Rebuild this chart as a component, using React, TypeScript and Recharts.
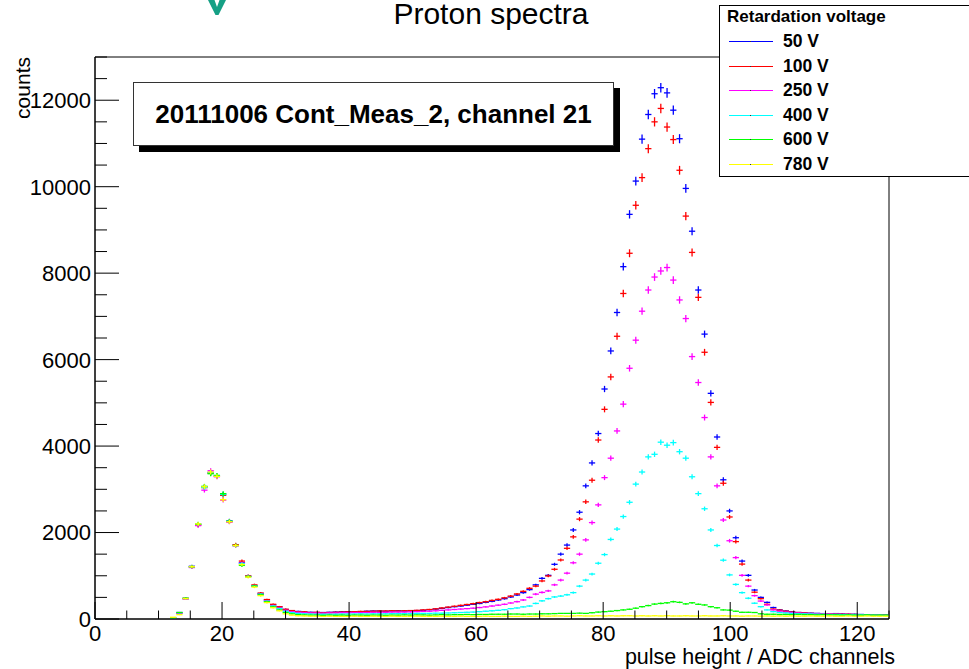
import React from "react";
import { ScatterChart, Scatter, XAxis, YAxis, ErrorBar, ReferenceArea, Legend } from "recharts";

const FONT = '"Liberation Sans", Arial, Helvetica, sans-serif';

const SERIES_NAMES = ["50 V", "100 V", "250 V", "400 V", "600 V", "780 V"];
const SERIES_COLORS = ["#0000ff", "#ff0000", "#ff00ff", "#00ffff", "#00ff00", "#ffff00"];

const X_TICKS = [0, 5, 10, 15, 20, 25, 30, 35, 40, 45, 50, 55, 60, 65, 70, 75, 80, 85, 90, 95, 100, 105, 110, 115, 120, 125];
const X_LABELS = [0, 20, 40, 60, 80, 100, 120];
const Y_TICKS = [0, 500, 1000, 1500, 2000, 2500, 3000, 3500, 4000, 4500, 5000, 5500, 6000, 6500, 7000, 7500, 8000, 8500, 9000, 9500, 10000, 10500, 11000, 11500, 12000, 12500, 13000];
const Y_LABELS = [0, 2000, 4000, 6000, 8000, 10000, 12000];

// 127 bins spread over 0..125 on the axis
const BIN_WIDTH = 125 / 127;

// counts per bin (index = bin number)
const counts50 = [
  0, 0, 0, 0, 0, 0, 0, 0, 0, 0,
  0, 0, 20, 150, 470, 1220, 2190, 3060, 3390, 3310,
  2890, 2270, 1710, 1300, 990, 770, 590, 440, 330, 280,
  220, 190, 175, 160, 155, 150, 150, 155, 160, 165,
  170, 165, 170, 180, 185, 185, 180, 185, 190, 185,
  190, 195, 200, 215, 230, 245, 265, 285, 300, 320,
  340, 360, 385, 410, 440, 470, 510, 555, 610, 680,
  790, 940, 1010, 1265, 1500, 1710, 2060, 2470, 3080, 3610,
  4290, 5320, 6200, 7090, 8150, 9360, 10130, 11100, 11670, 12150,
  12290, 12170, 11770, 11110, 9960, 8970, 7610, 6590, 5220, 4210,
  3220, 2500, 1880, 1340, 1010, 670, 500, 385, 265, 210,
  185, 165, 150, 140, 135, 130, 125, 120, 125, 115,
  110, 110, 105, 100, 100, 95, 95,
];
const counts100 = [
  0, 0, 0, 0, 0, 0, 0, 0, 0, 0,
  0, 0, 15, 140, 480, 1200, 2170, 3040, 3370, 3300,
  2860, 2250, 1720, 1340, 1000, 790, 600, 450, 340, 285,
  225, 195, 170, 165, 150, 155, 145, 150, 155, 160,
  165, 170, 175, 175, 180, 185, 185, 190, 185, 190,
  195, 200, 210, 220, 235, 255, 275, 295, 315, 335,
  355, 380, 400, 430, 455, 490, 530, 580, 640, 710,
  760, 880, 995, 1150, 1365, 1635, 1900, 2310, 2710, 3210,
  4140, 4850, 5600, 6540, 7530, 8460, 9570, 10210, 10880, 11500,
  11810, 11380, 11090, 10380, 9320, 8480, 7440, 6170, 5010, 3970,
  3140, 2360, 1790, 1270, 900, 620, 470, 340, 230, 205,
  180, 160, 150, 140, 130, 125, 120, 120, 115, 110,
  110, 105, 100, 100, 95, 95, 90,
];
const counts250 = [
  0, 0, 0, 0, 0, 0, 0, 0, 0, 0,
  0, 0, 10, 130, 460, 1190, 2160, 2980, 3430, 3290,
  2750, 2240, 1690, 1290, 980, 760, 570, 420, 310, 250,
  200, 170, 155, 145, 140, 140, 135, 140, 140, 145,
  145, 150, 150, 150, 155, 150, 155, 160, 160, 160,
  165, 170, 175, 180, 190, 200, 210, 220, 230, 240,
  250, 265, 280, 300, 320, 340, 370, 400, 440, 500,
  575, 615, 650, 790, 900, 1060, 1300, 1500, 1830, 2230,
  2640, 3270, 3720, 4350, 4970, 5800, 6450, 7120, 7610, 7910,
  8050, 8130, 7840, 7380, 6950, 6070, 5470, 4660, 3750, 3080,
  2290, 1810, 1420, 1010, 760, 540, 415, 325, 210, 180,
  160, 150, 140, 130, 125, 120, 115, 115, 110, 105,
  105, 100, 100, 95, 95, 90, 90,
];
const counts400 = [
  0, 0, 0, 0, 0, 0, 0, 0, 0, 0,
  0, 0, 15, 145, 475, 1210, 2200, 3040, 3380, 3320,
  2880, 2260, 1700, 1280, 985, 765, 575, 410, 300, 240,
  180, 150, 130, 120, 115, 110, 110, 110, 110, 115,
  115, 115, 120, 115, 120, 120, 120, 125, 125, 125,
  125, 130, 130, 130, 135, 135, 140, 145, 150, 155,
  160, 170, 180, 190, 200, 215, 240, 255, 280, 300,
  360, 420, 470, 510, 530, 560, 610, 760, 900, 1040,
  1290, 1490, 1840, 2080, 2370, 2700, 3120, 3400, 3750, 3810,
  4090, 4020, 4080, 3870, 3720, 3290, 2900, 2550, 2060, 1700,
  1360, 1020, 800, 610, 480, 365, 285, 210, 170, 150,
  140, 130, 125, 120, 115, 110, 110, 105, 105, 100,
  100, 95, 95, 90, 90, 90, 85,
];
const counts600 = [
  0, 0, 0, 0, 0, 0, 0, 0, 0, 0,
  0, 0, 25, 150, 480, 1210, 2190, 3070, 3360, 3320,
  2900, 2260, 1700, 1240, 980, 760, 560, 400, 280, 210,
  150, 120, 100, 95, 90, 90, 85, 90, 85, 90,
  85, 90, 90, 85, 90, 90, 85, 90, 90, 95,
  90, 95, 95, 90, 95, 100, 95, 100, 100, 105,
  100, 105, 105, 110, 110, 110, 115, 115, 110, 115,
  115, 120, 120, 125, 130, 130, 130, 135, 130, 145,
  160, 170, 180, 195, 210, 225, 250, 285, 310, 345,
  360, 375, 400, 385, 350, 375, 340, 325, 285, 260,
  210, 205, 180, 155, 155, 150, 120, 110, 110, 105,
  105, 100, 105, 100, 100, 95, 100, 95, 95, 90,
  95, 90, 90, 95, 90, 90, 90,
];
const counts780 = [
  0, 0, 0, 0, 0, 0, 0, 0, 0, 0,
  0, 0, 40, 100, 470, 1210, 2200, 3060, 3400, 3300,
  2760, 2250, 1700, 1260, 970, 740, 540, 380, 260, 190,
  120, 90, 75, 70, 65, 65, 60, 65, 60, 60,
  60, 65, 60, 60, 65, 60, 60, 65, 60, 60,
  60, 65, 60, 60, 60, 65, 60, 60, 65, 60,
  60, 60, 65, 60, 60, 65, 60, 60, 65, 60,
  65, 70, 65, 70, 70, 65, 70, 75, 70, 70,
  75, 70, 75, 70, 75, 75, 70, 75, 70, 75,
  70, 75, 70, 70, 75, 70, 70, 75, 70, 70,
  75, 70, 70, 65, 70, 70, 65, 70, 65, 70,
  65, 70, 65, 65, 70, 65, 65, 70, 65, 65,
  70, 65, 65, 70, 65, 65, 65,
];

const SERIES_COUNTS = [counts50, counts100, counts250, counts400, counts600, counts780];

// histogram bins: centre of each bin, poisson errors
const toPoints = (counts: number[]) =>
  counts
    .map((v, i) => ({ x: (i + 0.5) * BIN_WIDTH, y: v, ex: BIN_WIDTH / 2, ey: Math.sqrt(v) }))
    .filter((p) => p.y > 0);

function XTick(props: any) {
  const { x, y, payload } = props;
  const v = payload.value;
  const major = X_LABELS.includes(v);
  return (
    <g>
      <line x1={x} y1={y} x2={x} y2={y - (major ? 17 : 8.5)} stroke="#000" strokeWidth={1} />
      {major && (
        <text x={x} y={y + 22} textAnchor="middle" fontSize={22} fontFamily={FONT} fill="#000">
          {v}
        </text>
      )}
    </g>
  );
}

function YTick(props: any) {
  const { x, y, payload } = props;
  const v = payload.value;
  const major = Y_LABELS.includes(v);
  return (
    <g>
      <line x1={x} y1={y} x2={x + (major ? 24 : 12)} y2={y} stroke="#000" strokeWidth={1} />
      {major && (
        <text x={x - 4} y={y} dy="0.36em" textAnchor="end" fontSize={22} fontFamily={FONT} fill="#000">
          {v}
        </text>
      )}
    </g>
  );
}

function LegendBox(props: any) {
  const payload = [...(props.payload || [])].sort(
    (a: any, b: any) => SERIES_NAMES.indexOf(a.value) - SERIES_NAMES.indexOf(b.value)
  );
  return (
    <div
      style={{
        width: 258,
        height: 170,
        border: "1px solid #000",
        background: "#fff",
        fontFamily: FONT,
        fontWeight: "bold",
        color: "#000",
        position: "relative",
      }}
    >
      <div style={{ position: "absolute", left: 7, top: 1, fontSize: 17 }}>Retardation voltage</div>
      {payload.map((entry: any, i: number) => {
        const color = SERIES_COLORS[SERIES_NAMES.indexOf(entry.value)] || entry.color;
        return (
          <div key={entry.value} style={{ position: "absolute", left: 0, top: 24 + i * 24.6, height: 22, width: 250 }}>
            <svg width={60} height={22} style={{ position: "absolute", left: 0, top: 0 }}>
              <line x1={9} y1={11.5} x2={53} y2={11.5} stroke={color} strokeWidth={1.2} />
              <rect x={30} y={11} width={1} height={1} fill="#333" />
            </svg>
            <span style={{ position: "absolute", left: 63, top: 1, fontSize: 17.5 }}>{entry.value}</span>
          </div>
        );
      })}
    </div>
  );
}

export default function App() {
  return (
    <div style={{ position: "absolute", left: 0, top: 0, width: 969, height: 669, background: "#fff", overflow: "hidden" }}>
      <ScatterChart width={969} height={669} margin={{ top: 57, right: 80, bottom: 0, left: 0 }}>
        <XAxis
          type="number"
          dataKey="x"
          domain={[0, 125]}
          ticks={X_TICKS}
          interval={0}
          height={50}
          tick={<XTick />}
          tickLine={false}
          tickSize={0}
          tickMargin={0}
          axisLine={{ stroke: "#000" }}
          allowDataOverflow
        />
        <YAxis
          type="number"
          dataKey="y"
          domain={[0, 13000]}
          ticks={Y_TICKS}
          interval={0}
          width={95}
          tick={<YTick />}
          tickLine={false}
          tickSize={0}
          tickMargin={0}
          axisLine={{ stroke: "#000" }}
          allowDataOverflow
        />
        <ReferenceArea x1={0} x2={125} y1={0} y2={13000} fill="none" stroke="#000" strokeWidth={1} ifOverflow="visible" />
        {SERIES_COUNTS.map((counts, i) => (
          <Scatter
            key={SERIES_NAMES[i]}
            name={SERIES_NAMES[i]}
            data={toPoints(counts)}
            fill={SERIES_COLORS[i]}
            shape={() => <g />}
            isAnimationActive={false}
          >
            <ErrorBar dataKey="ey" direction="y" width={0} stroke={SERIES_COLORS[i]} strokeWidth={1.3} isAnimationActive={false} />
            <ErrorBar dataKey="ex" direction="x" width={0} stroke={SERIES_COLORS[i]} strokeWidth={1.3} isAnimationActive={false} />
          </Scatter>
        ))}
        <Legend
          content={<LegendBox />}
          layout="horizontal"
          align="center"
          verticalAlign="middle"
          itemSorter={(entry: any) => SERIES_NAMES.indexOf(entry.value)}
          wrapperStyle={{ left: 719, top: 5, width: 260, height: 172 }}
        />
      </ScatterChart>

      <svg width={969} height={669} style={{ position: "absolute", left: 0, top: 0, pointerEvents: "none" }}>
        <polygon points="208,0 214.5,0 217,7 219.5,0 226,0 218.5,15 215.5,15" fill="#16a085" />
        <text x={491} y={24} textAnchor="middle" fontSize={30} fontFamily={FONT} fill="#000">
          Proton spectra
        </text>
        <text x={30} y={57} textAnchor="end" fontSize={21} fontFamily={FONT} fill="#000" transform="rotate(-90 30 57)">
          counts
        </text>
        <text x={895} y={664} textAnchor="end" fontSize={21.5} fontFamily={FONT} fill="#000">
          pulse height / ADC channels
        </text>
      </svg>

      <div
        style={{
          position: "absolute",
          left: 133,
          top: 82,
          width: 479,
          height: 62,
          border: "1px solid #333",
          background: "#fff",
          boxShadow: "6px 6px 0 #000",
          fontFamily: FONT,
          fontWeight: "bold",
          fontSize: 26,
          color: "#000",
          display: "flex",
          alignItems: "center",
          justifyContent: "center",
        }}
      >
        20111006 Cont_Meas_2, channel 21
      </div>
    </div>
  );
}
